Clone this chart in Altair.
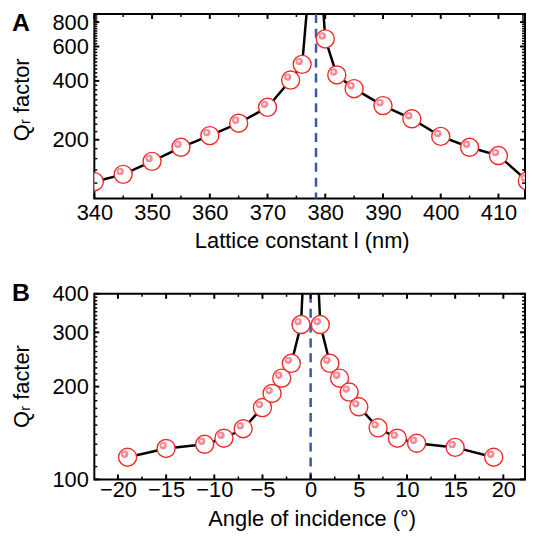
import altair as alt
import pandas as pd

FONT = "Liberation Sans"

# ---------------- Panel A data ----------------
a_lattice = [340, 345, 350, 355, 360, 365, 370, 374, 376, 380, 382, 385, 390, 395, 400, 405, 410, 415]
a_q = [122, 133, 155, 183, 210, 243, 293, 404, 486, 656, 429, 365, 299, 256, 208, 183, 166, 123]
a_bic_x = 378.4          # dashed line position
a_apex_q = 3200          # line apex (off scale, diverging Q)
a_xticks = [340, 350, 360, 370, 380, 390, 400, 410]
a_xminor = [345, 355, 365, 375, 385, 395, 405]
a_yticks = [200, 400, 600, 800]
a_yminor = [120, 140, 160, 180, 220, 240, 260, 280, 300, 320, 340, 360, 380,
            420, 440, 460, 480, 500, 520, 540, 560, 580, 620, 640, 660, 680,
            700, 720, 740, 760, 780, 820, 840, 860]

# ---------------- Panel B data ----------------
b_angle = [-19, -15, -11, -9, -7, -5, -4, -3, -2, -1, 1, 2, 3, 4, 5, 7, 9, 11, 15, 19]
b_q = [118, 126, 130, 136, 146, 171, 190, 213, 238, 318, 318, 238, 213, 192, 172, 147, 136, 131, 127, 118]
b_bic_x = 0
b_apex_q = 1500
b_xticks = [-20, -15, -10, -5, 0, 5, 10, 15, 20]
b_xminor = [-17.5, -12.5, -7.5, -2.5, 2.5, 7.5, 12.5, 17.5]
b_yticks = [100, 200, 300, 400]
b_yminor = [110, 120, 130, 140, 150, 160, 170, 180, 190, 210, 220, 230, 240,
            250, 260, 270, 280, 290, 310, 320, 330, 340, 350, 360, 370, 380, 390]

W = 434


def panel(xs, qs, bic_x, apex_q, xdom, ydom, xticks, xminor, yticks, yminor,
          xtitle, ytitle, letter, H, lab_pad, title_pad, letter_y, title_x, title_y):
    pts = pd.DataFrame({"x": xs, "q": qs})
    line_df = pd.DataFrame({"x": xs + [bic_x], "q": qs + [apex_q]}).sort_values("x")
    xs_ = alt.Scale(domain=xdom, nice=False, zero=False)
    ys_ = alt.Scale(type="log", domain=ydom, nice=False)
    xaxis = alt.Axis(values=xticks, title=xtitle, ticks=False, tickSize=0, domain=False,
                     grid=False, labelFontSize=22, labelPadding=lab_pad, titleFontSize=22,
                     titlePadding=title_pad, format="d", labelFont=FONT, titleFont=FONT,
                     labelColor="black", titleColor="black", titleFontWeight="normal",
                     titleX=title_x, labelFlush=False, labelOverlap=False)
    yaxis = alt.Axis(values=yticks, title=ytitle, ticks=False, tickSize=0, domain=False,
                     grid=False, labelFontSize=22, labelPadding=6, titleFontSize=22,
                     titlePadding=19, format="d", labelFont=FONT, titleFont=FONT,
                     labelColor="black", titleColor="black", titleFontWeight="normal",
                     titleY=title_y, labelFlush=False, labelOverlap=False)

    line = alt.Chart(line_df).mark_line(color="black", strokeWidth=2.5, clip=True).encode(
        x=alt.X("x:Q", scale=xs_, axis=xaxis),
        y=alt.Y("q:Q", scale=ys_, axis=yaxis),
    )
    dash = alt.Chart(pd.DataFrame({"x": [bic_x]})).mark_rule(
        color="#3b57a7", strokeWidth=2.5, strokeDash=[9, 6]).encode(
        x=alt.X("x:Q", scale=xs_))
    ring = alt.Chart(pts).mark_point(
        shape="circle", size=330, fill="white", fillOpacity=1, stroke="#ee2b2b",
        strokeWidth=1.4, opacity=1, clip=True).encode(
        x=alt.X("x:Q", scale=xs_), y=alt.Y("q:Q", scale=ys_))
    dot = alt.Chart(pts).mark_circle(
        size=55, color="#f08a95", opacity=1, xOffset=-3, yOffset=-3, clip=True).encode(
        x=alt.X("x:Q", scale=xs_), y=alt.Y("q:Q", scale=ys_))
    hi = alt.Chart(pts).mark_circle(
        size=10, color="#fde3e6", opacity=1, xOffset=-3.3, yOffset=-3.3, clip=True).encode(
        x=alt.X("x:Q", scale=xs_), y=alt.Y("q:Q", scale=ys_))

    def xt(vals, length, sw):
        d = pd.DataFrame({"v": vals})
        bot = alt.Chart(d).mark_rule(color="black", strokeWidth=sw).encode(
            x=alt.X("v:Q", scale=xs_), y=alt.value(H), y2=alt.value(H - length))
        top = alt.Chart(d).mark_rule(color="black", strokeWidth=sw).encode(
            x=alt.X("v:Q", scale=xs_), y=alt.value(0), y2=alt.value(length))
        return [bot, top]

    def yt(vals, length, sw):
        d = pd.DataFrame({"v": vals})
        left = alt.Chart(d).mark_rule(color="black", strokeWidth=sw).encode(
            y=alt.Y("v:Q", scale=ys_), x=alt.value(0), x2=alt.value(length))
        right = alt.Chart(d).mark_rule(color="black", strokeWidth=sw).encode(
            y=alt.Y("v:Q", scale=ys_), x=alt.value(W), x2=alt.value(W - length))
        return [left, right]

    lab = alt.Chart(pd.DataFrame({"t": [letter]})).mark_text(
        font="Liberation Sans", fontSize=25, fontWeight="bold", align="left",
        baseline="alphabetic", color="black").encode(
        text="t:N", x=alt.value(-83), y=alt.value(letter_y))

    layers = [line, dash, ring, dot, hi] + xt(xticks, 5, 2) + xt(xminor, 3, 1.5) \
        + yt(yticks, 5, 2) + yt(yminor, 3, 1.5) + [lab]
    return alt.layer(*layers).properties(width=W, height=H)


A = panel(a_lattice, a_q, a_bic_x, a_apex_q, [340, 414.6], [100, 880],
          a_xticks, a_xminor, a_yticks, a_yminor,
          "Lattice constant l (nm)", "Qᵣ factor", "A", 186, 4, 7, 17, 209, 86)
B = panel(b_angle, b_q, b_bic_x, b_apex_q, [-22.45, 22.25], [100, 400],
          b_xticks, b_xminor, b_yticks, b_yminor,
          "Angle of incidence (°)", "Qᵣ facter", "B", 187, 0, 8, 7, 219, 93)

chart = alt.vconcat(A, B, spacing=96, bounds="flush").properties(
    padding={"left": 1, "top": 0, "right": 0, "bottom": 3}
).configure_view(stroke="black", strokeWidth=2)

chart.save("out.html", embed_options={"renderer": "svg", "actions": False})
